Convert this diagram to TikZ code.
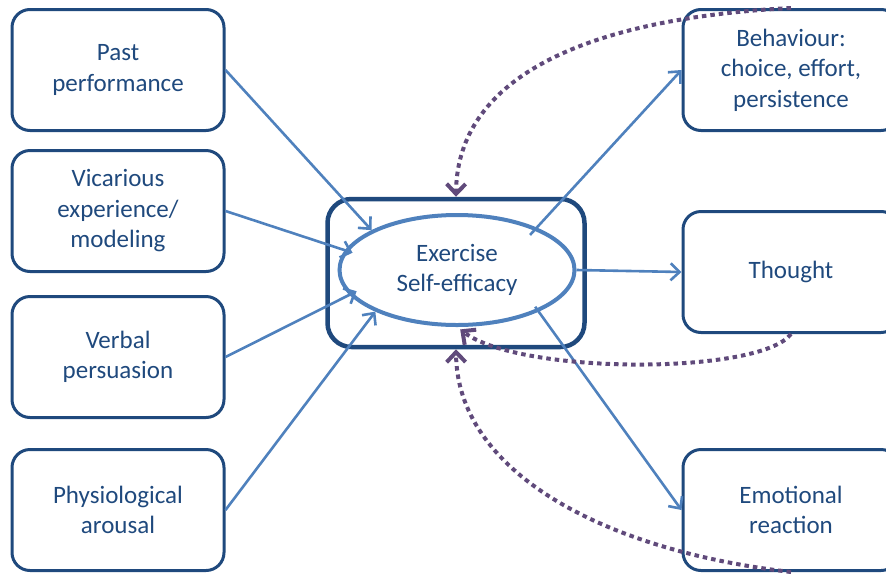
\documentclass[tikz,border=0pt]{standalone}
\usepackage{fontspec}
\setmainfont{Carlito}
\usetikzlibrary{positioning,arrows.meta,shapes,calc}
\definecolor{boxblue}{HTML}{1F497D}
\definecolor{lineblue}{HTML}{4F81BD}
\definecolor{loopurple}{HTML}{604A7B}

\begin{document}
\begin{tikzpicture}[x=1pt,y=-1pt,
    factor/.style={draw=boxblue, line width=3pt, rounded corners=18pt,
        minimum width=212pt, minimum height=121pt, align=center,
        text=boxblue, font=\fontsize{25}{30.5}\selectfont},
    outcome/.style={factor, minimum width=216pt},
    link/.style={draw=lineblue, line width=2.6pt, -{Straight Barb[length=9pt,width=17pt]}},
    feedback/.style={draw=loopurple, line width=4pt, dash pattern=on 4.5pt off 4pt,
        -{Straight Barb[length=10pt,width=19pt]}}]
    \useasboundingbox (0,0) rectangle (886,574);

    % Sources of efficacy
    \node[factor] (past) at (118,70) {Past\\performance};
    \node[factor] (vicar) at (118,211) {Vicarious\\experience/\\modeling};
    \node[factor] (verbal) at (118,357) {Verbal\\persuasion};
    \node[factor] (arousal) at (118,510) {Physiological\\arousal};

    % Centre
    \node[draw=boxblue, line width=4.5pt, rounded corners=24pt,
        minimum width=257pt, minimum height=148pt] (self) at (456,273) {};
    \node[ellipse, draw=lineblue, line width=4pt, minimum width=235pt,
        minimum height=110pt, inner sep=2pt, align=center, text=boxblue,
        font=\fontsize{25}{30.5}\selectfont] (eff) at (457,270) {Exercise\\Self-efficacy};

    % Consequences
    \node[outcome] (behav) at (791,70) {Behaviour:\\choice, effort,\\persistence};
    \node[outcome] (thought) at (791,272) {Thought};
    \node[outcome] (emotion) at (791,510) {Emotional\\reaction};

    % Arrows in
    \draw[link] (past.east) -- (eff.155);
    \draw[link, shorten >=-8pt] (vicar.east) -- (eff.170);
    \draw[link, shorten >=-8pt] (verbal.east) -- (eff.193);
    \draw[link] (arousal.east) -- (eff.207);

    % Arrows out
    \draw[link, shorten <=-10pt] (eff.28) -- (behav.west);
    \draw[link] (eff.east) -- (thought.west);
    \draw[link, shorten <=-6pt] (eff.333) -- (emotion.west);

    % Feedback loops
    \draw[feedback] (behav.north) .. controls (560,20) and (457,90) .. (self.north);
    \draw[feedback, shorten >=4pt] (thought.south) .. controls (760,375) and (520,375) .. (eff.south);
    \draw[feedback] (emotion.south) .. controls (600,550) and (457,470) .. (self.south);
\end{tikzpicture}
\end{document}
